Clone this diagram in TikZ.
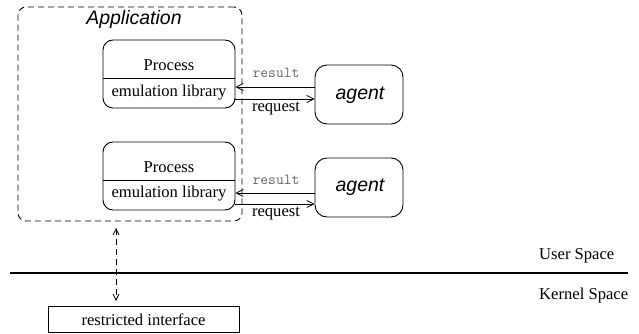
\documentclass[tikz,border=0pt]{standalone}
\usepackage{fontspec}
\setmainfont{Liberation Serif}
\setsansfont{Liberation Sans}
\usetikzlibrary{arrows.meta}
\begin{document}
\begin{tikzpicture}[x=1pt,y=-1pt,
  serif/.style={font=\fontsize{16.6}{20}\selectfont, inner sep=0pt},
  sanslab/.style={font=\fontsize{19.5}{23}\selectfont\sffamily\itshape, inner sep=0pt},
  monolab/.style={font=\fontsize{15.2}{18}\selectfont\ttfamily, text=black!60, inner sep=0pt},
  procbox/.style={draw, line width=0.9pt, rounded corners=10pt, minimum width=132pt, minimum height=68pt, inner sep=0pt},
  agentbox/.style={draw, line width=0.9pt, rounded corners=12pt, minimum width=88pt, minimum height=59pt, inner sep=0pt},
  arr/.style={line width=0.9pt, -{Straight Barb[length=7pt,width=7pt,line width=0.8pt]}},
  darr/.style={line width=0.9pt, dash pattern=on 6pt off 4pt, {Straight Barb[length=6pt,width=6pt,line width=0.8pt]}-{Straight Barb[length=6pt,width=6pt,line width=0.8pt]}}
]
\useasboundingbox (0,0) rectangle (639,334);
% Application box
\node[draw, line width=0.9pt, dash pattern=on 6pt off 4pt, rounded corners=8pt, minimum width=224pt, minimum height=214pt, inner sep=0pt] (app) at (130,114) {};
\node[sanslab, anchor=base] (applab) at (134,25) {Application};
% Process boxes
\node[procbox] (p1) at (169,74) {};
\draw[line width=0.9pt] (p1.west |- 0,78) -- (p1.east |- 0,78);
\node[serif, anchor=base] (p1t) at (169,71) {Process};
\node[serif, anchor=base] (p1l) at (169,96) {emulation library};
\node[procbox] (p2) at (169,176) {};
\draw[line width=0.9pt] (p2.west |- 0,180) -- (p2.east |- 0,180);
\node[serif, anchor=base] (p2t) at (169,172) {Process};
\node[serif, anchor=base] (p2l) at (169,197) {emulation library};
% Agents
\node[agentbox] (a1) at (359,94.5) {};
\node[sanslab] (a1t) at (360,95) {agent};
\node[agentbox] (a2) at (359,187.5) {};
\node[sanslab] (a2t) at (360,187) {agent};
% Arrows
\draw[arr] (a1.west |- 0,87) -- (p1.east |- 0,87);
\draw[arr] (p1.east |- 0,99) -- (a1.west |- 0,99);
\draw[arr] (a2.west |- 0,193) -- (p2.east |- 0,193);
\draw[arr] (p2.east |- 0,204) -- (a2.west |- 0,204);
\node[monolab, anchor=base] (r1) at (276,78) {result};
\node[serif, anchor=base] (q1) at (276,111) {request};
\node[monolab, anchor=base] (r2) at (276,184) {result};
\node[serif, anchor=base] (q2) at (276,216.5) {request};
% User/Kernel
\coordinate (lineL) at (10,273);
\coordinate (lineR) at (628,273);
\draw[line width=1.3pt] (lineL) -- (lineR);
\node[serif, anchor=base west] (us) at (539,259) {User Space};
\node[serif, anchor=base west] (ks) at (539,299) {Kernel Space};
% restricted interface
\node[draw, line width=0.8pt, minimum width=191pt, minimum height=26pt, inner sep=0pt] (ri) at (143.5,319) {};
\node[serif] (rit) at (143.5,319.5) {restricted interface};
\coordinate (dtop) at (116,228);
\coordinate (dbot) at (116,301);
\draw[darr] (dtop) -- (dbot);
\end{tikzpicture}
\end{document}
